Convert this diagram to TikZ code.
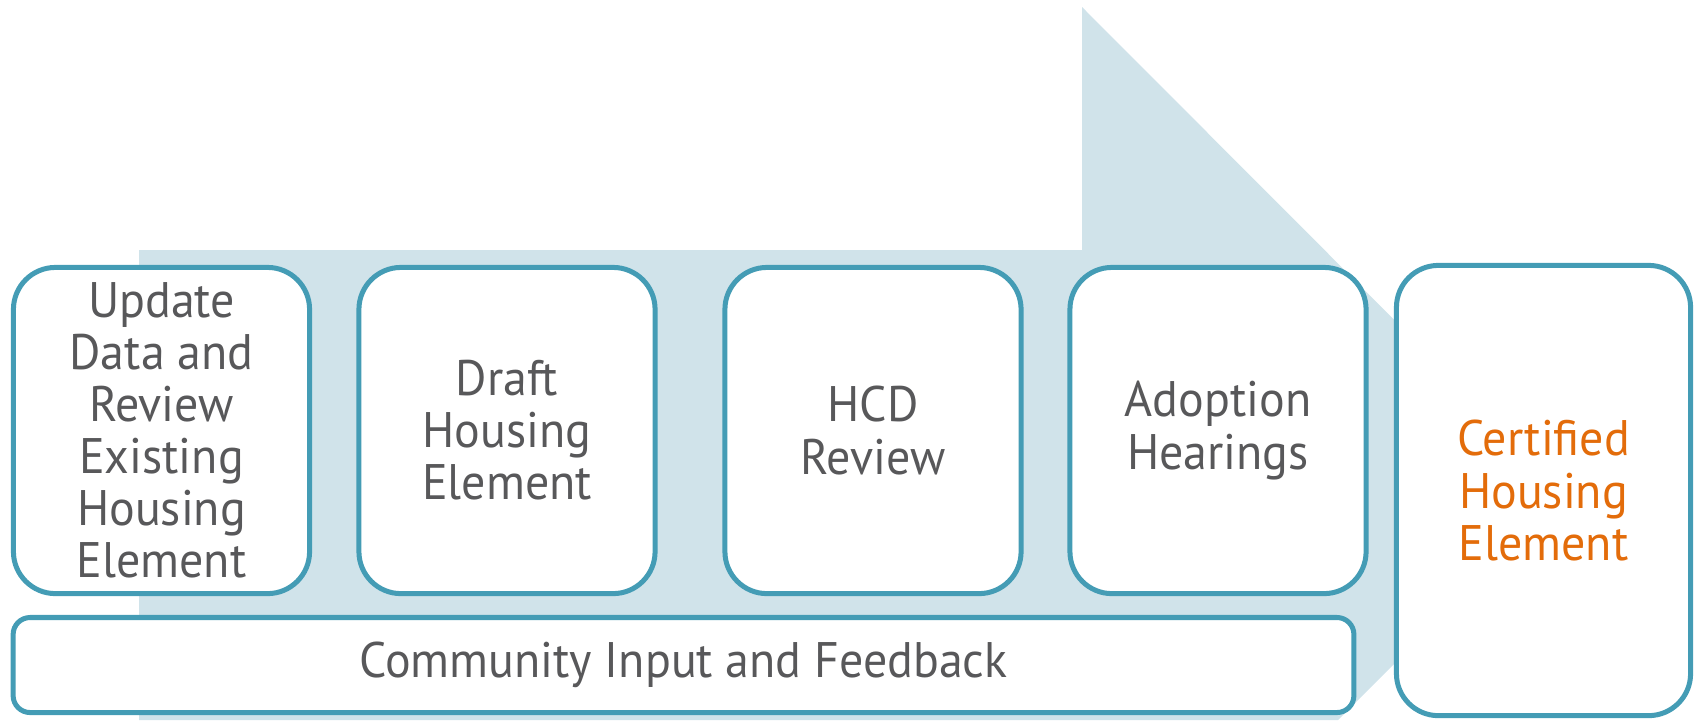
\documentclass[tikz,border=0pt]{standalone}
\usepackage{fontspec}
\setmainfont[FakeStretch=0.96]{PT Sans}
\definecolor{stepline}{HTML}{449CB5}
\definecolor{arrowfill}{HTML}{D0E3EA}
\definecolor{stepgray}{HTML}{58585A}
\definecolor{certorange}{HTML}{E36C0A}
\tikzset{
  stepbox/.style={draw=stepline, line width=0.05cm, fill=white, rounded corners=0.42cm,
    minimum width=2.96cm, minimum height=3.26cm, inner sep=0pt, align=center,
    text=stepgray, font=\fontsize{14.2}{14.8}\selectfont},
  inputbar/.style={stepbox, rounded corners=0.17cm, minimum width=13.4cm, minimum height=0.95cm},
}

\begin{document}
\begin{tikzpicture}[x=0.01cm, y=-0.01cm]
		%%%%% START %%%%%
		\useasboundingbox (0,0) rectangle (1695,720);
		
		% big arrow behind the steps
		\fill[arrowfill] (139,250) -- (1082,250) -- (1082,7) -- (1566,492) -- (1338,720) -- (139,720) -- cycle;
		
		\node[stepbox] (update) at (161.5,430.5) {Update\\Data and\\Review\\Existing\\Housing\\Element};
		\node[stepbox] (draft) at (507,430.5) {Draft\\Housing\\Element};
		\node[stepbox] (hcd) at (873,430.5) {HCD\\Review};
		\node[stepbox] (adoption) at (1218,430.5) {Adoption\\Hearings};
		
		\node[stepbox, minimum width=2.94cm, minimum height=4.5cm, text=certorange] (certified) at (1543.5,490.5) {Certified\\Housing\\Element};
		
		\node[inputbar] (community) at (683.5,665) {Community Input and Feedback};
		%%%%% END %%%%%
\end{tikzpicture}
\end{document}
